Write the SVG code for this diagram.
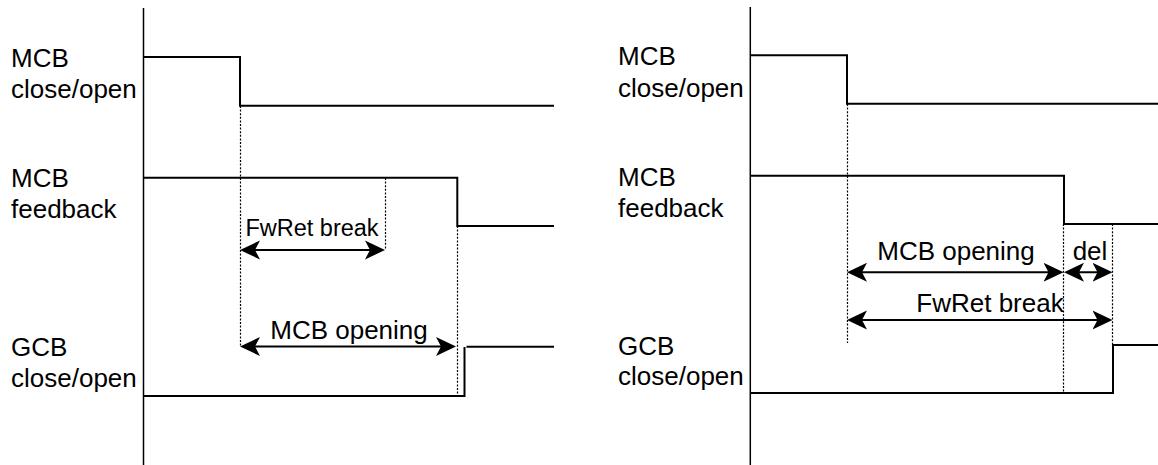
<svg xmlns="http://www.w3.org/2000/svg" width="1158" height="465" viewBox="0 0 1158 465">
<style>
.t{font-family:"Liberation Sans",Arial,Helvetica,sans-serif;font-size:26px;fill:#000}
.s{font-size:23.5px}
.c{text-anchor:middle}
.w{fill:none;stroke:#000;stroke-width:2}
.ax{fill:none;stroke:#000;stroke-width:1.5}
.d{fill:none;stroke:#000;stroke-width:1.2;stroke-dasharray:2 1.6}
.a{fill:none;stroke:#000;stroke-width:2;marker-start:url(#arr);marker-end:url(#arr)}
</style>
<defs>
<marker id="arr" viewBox="0 0 20 20" markerWidth="20" markerHeight="20" refX="17" refY="10" orient="auto-start-reverse" markerUnits="userSpaceOnUse">
<path d="M0,0.5 L20,10 L0,19.5 L5,10 Z" fill="#000"/>
</marker>
</defs>
<rect width="1158" height="465" fill="#fff"/>

<g id="left-panel">
<g id="left-axis"><line class="ax" x1="143.5" y1="8" x2="143.5" y2="465"/></g>
<g id="left-mcb-cmd">
<text class="t" x="11" y="66.5">MCB</text><text class="t" x="11" y="97.5">close/open</text>
<path class="w" d="M143.5,57 H240 V105.7 H554"/>
</g>
<g id="left-mcb-fb">
<text class="t" x="11" y="186.5">MCB</text><text class="t" x="11" y="217.5">feedback</text>
<path class="w" d="M143.5,177.7 H457.3 V226 H554"/>
</g>
<g id="left-gcb">
<text class="t" x="11" y="356">GCB</text><text class="t" x="11" y="387">close/open</text>
<path class="w" d="M143.5,396 H464.5 V347"/>
<path class="w" d="M466.5,346.7 H554"/>
</g>
<g id="left-label-fwret"><text class="t s c" x="312" y="235.5">FwRet break</text></g>
<g id="left-label-mcbopen"><text class="t c" x="349" y="338.5">MCB opening</text></g>
</g>

<g id="right-panel">
<g id="right-axis"><line class="ax" x1="750.3" y1="7" x2="750.3" y2="465"/></g>
<g id="right-mcb-cmd">
<text class="t" x="618" y="65">MCB</text><text class="t" x="618" y="96.5">close/open</text>
<path class="w" d="M750.3,55.3 H847 V103.7 H1158"/>
</g>
<g id="right-mcb-fb">
<text class="t" x="618" y="185.5">MCB</text><text class="t" x="618" y="216.5">feedback</text>
<path class="w" d="M750.3,175.7 H1064 V224 H1158"/>
</g>
<g id="right-gcb">
<text class="t" x="618" y="354.5">GCB</text><text class="t" x="618" y="385">close/open</text>
<path class="w" d="M750.3,393 H1113 V345 H1158"/>
</g>
<g id="right-label-mcbopen"><text class="t c" x="956" y="259.5">MCB opening</text></g>
<g id="right-label-del"><text class="t c" x="1090" y="259.5">del</text></g>
<g id="right-label-fwret"><text class="t c" x="990" y="312">FwRet break</text></g>
</g>

<g id="connectors">
<line class="d" x1="240.5" y1="106" x2="240.5" y2="346.5"/>
<line class="d" x1="385.5" y1="178" x2="385.5" y2="250"/>
<line class="d" x1="457.5" y1="226" x2="457.5" y2="396"/>
<line class="a" x1="243" y1="250" x2="382" y2="250"/>
<line class="a" x1="243" y1="346.5" x2="453" y2="346.5"/>

<line class="d" x1="847.5" y1="104" x2="847.5" y2="343"/>
<line class="d" x1="1063.5" y1="224" x2="1063.5" y2="393"/>
<line class="d" x1="1112.5" y1="224" x2="1112.5" y2="345"/>
<line class="a" x1="850" y1="272.3" x2="1060.5" y2="272.3"/>
<line class="a" x1="1067" y1="272.3" x2="1109.5" y2="272.3"/>
<line class="a" x1="850" y1="320" x2="1109.5" y2="320"/>
</g>
</svg>
